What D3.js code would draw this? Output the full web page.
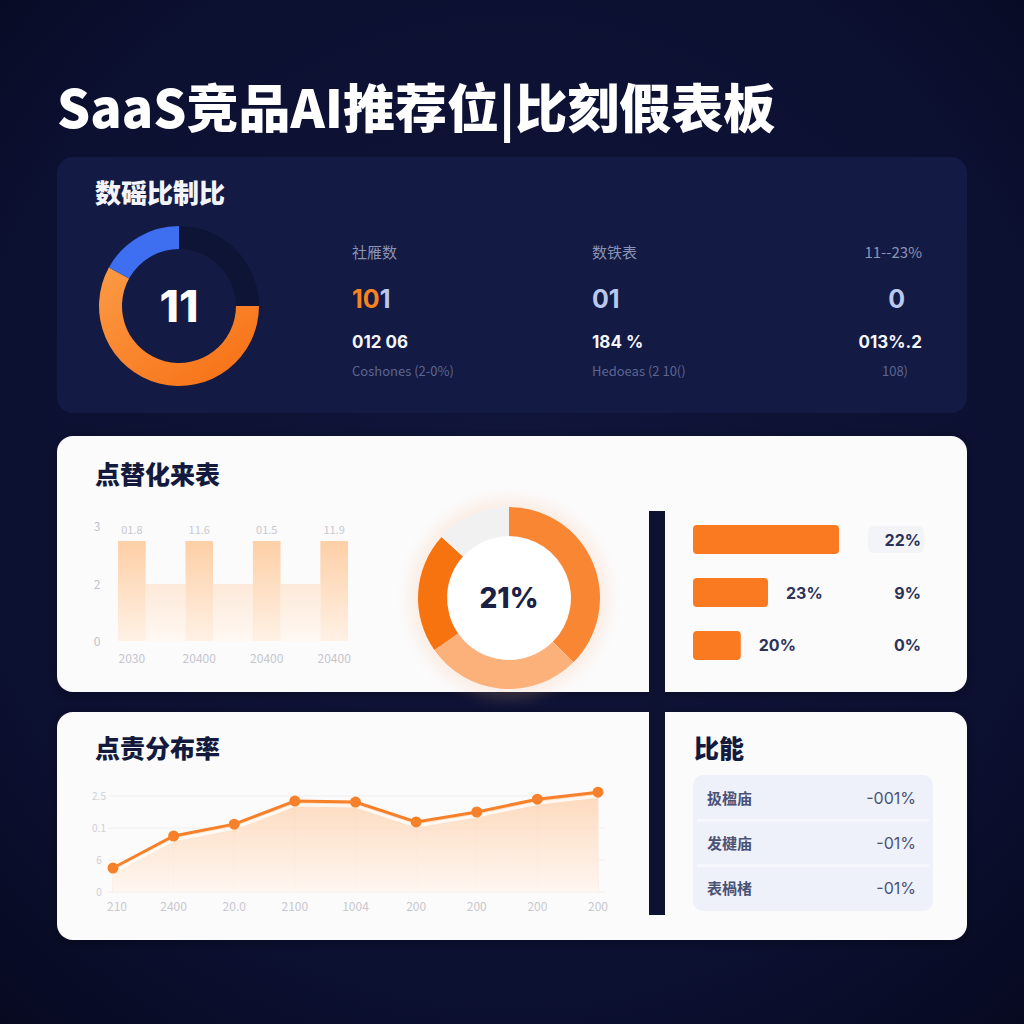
<!DOCTYPE html>
<html><head><meta charset="utf-8">
<script src="https://cdn.jsdelivr.net/npm/d3@7"></script>
<style>
html,body{margin:0;padding:0;background:#0c1030;}
svg{display:block;font-family:"Noto Sans CJK SC","Noto Sans",sans-serif;}
</style></head>
<body>
<svg id="c" width="1024" height="1024"></svg>
<script>
// ---------- DATA ----------
const titleText = "SaaS竞品AI推荐位|比刻假表板";
const panelTitles = ["数磘比制比", "点替化来表", "点责分布率", "比能"];

const ringLabels = ["orange", "blue", "rest"];
const ringValues = [58, 17, 25];
const ringCenter = "11";

const statLabels = ["社雁数", "数铁表", "11--23%"];
const statMain = ["101", "01", "0"];
const statSub = ["012 06", "184 %", "013%.2"];
const statNote = ["Coshones (2-0%)", "Hedoeas (2 10()", "108)"];

const barCats = ["2030", "20400", "20400", "20400"];
const barValues = [2.63, 2.63, 2.63, 2.63];
const barTopLabels = ["01.8", "11.6", "01.5", "11.9"];
const fillerValues = [1.5, 1.5, 1.5];
const barTickValues = [0, 1.5, 3];
const barTickLabels = ["0", "2", "3"];

const donutLabels = ["a", "b", "c", "d"];
const donutValues = [37.5, 27.8, 21.4, 13.3];
const donutCenter = "21%";

const hbarValues = [22, 11.3, 7.2];
const hbarInLabels = ["", "23%", "20%"];
const hbarRightLabels = ["22%", "9%", "0%"];

const lineCats = ["210", "2400", "20.0", "2100", "1004", "200", "200", "200", "200"];
const lineValues = [0.75, 1.75, 2.12, 2.84, 2.81, 2.19, 2.5, 2.9, 3.12];
const lineTickValues = [0, 1, 2, 3];
const lineTickLabels = ["0", "6", "0.1", "2.5"];

const tableNames = ["扱楹庙", "发楗庙", "表楇楮"];
const tableValues = ["-001%", "-01%", "-01%"];

// ---------- DRAW ----------
const svg = d3.select("#c");
const defs = svg.append("defs");

// background
const bg = defs.append("radialGradient").attr("id", "bg").attr("cx", "50%").attr("cy", "45%").attr("r", "75%");
bg.append("stop").attr("offset", "0%").attr("stop-color", "#10153a");
bg.append("stop").attr("offset", "70%").attr("stop-color", "#0c1031");
bg.append("stop").attr("offset", "100%").attr("stop-color", "#070920");
svg.append("rect").attr("width", 1024).attr("height", 1024).attr("fill", "url(#bg)");

const sh = defs.append("filter").attr("id", "shadow").attr("x", "-10%").attr("y", "-10%").attr("width", "120%").attr("height", "130%");
sh.append("feDropShadow").attr("dx", 0).attr("dy", 2).attr("stdDeviation", 6).attr("flood-color", "#000").attr("flood-opacity", 0.35);

const glow = defs.append("filter").attr("id", "glow").attr("x", "-40%").attr("y", "-40%").attr("width", "180%").attr("height", "180%");
glow.append("feGaussianBlur").attr("stdDeviation", 8);

// title
svg.append("text").attr("x", 57).attr("y", 128).attr("fill", "#fff")
  .attr("font-size", 52).attr("font-weight", 900).text(titleText);

// panels
svg.append("rect").attr("x", 57).attr("y", 157).attr("width", 910).attr("height", 256).attr("rx", 16)
  .attr("fill", "#131a43");
svg.append("rect").attr("x", 57).attr("y", 436).attr("width", 910).attr("height", 256).attr("rx", 16)
  .attr("fill", "#fbfbfc").attr("filter", "url(#shadow)");
svg.append("rect").attr("x", 57).attr("y", 712).attr("width", 910).attr("height", 228).attr("rx", 16)
  .attr("fill", "#fbfbfc").attr("filter", "url(#shadow)");

// panel titles
svg.append("text").attr("x", 95).attr("y", 203).attr("fill", "#f2f4fa").attr("font-size", 26).attr("font-weight", 900).text(panelTitles[0]);
svg.append("text").attr("x", 95).attr("y", 484).attr("fill", "#131a3d").attr("font-size", 25).attr("font-weight", 900).text(panelTitles[1]);
svg.append("text").attr("x", 95).attr("y", 758).attr("fill", "#131a3d").attr("font-size", 25).attr("font-weight", 900).text(panelTitles[2]);
svg.append("text").attr("x", 694).attr("y", 758).attr("fill", "#131a3d").attr("font-size", 25).attr("font-weight", 900).text(panelTitles[3]);

// ---- ring 1 ----
{
  const g = svg.append("g").attr("transform", "translate(179,306)");
  const og = defs.append("linearGradient").attr("id", "og1").attr("x1", "0").attr("y1", "0").attr("x2", "1").attr("y2", "1");
  og.append("stop").attr("offset", "0%").attr("stop-color", "#fb9a45");
  og.append("stop").attr("offset", "100%").attr("stop-color", "#f76e12");
  const colors = ["url(#og1)", "#3e6ff0", "#0e1436"];
  // order on ring: rest (0..90deg), orange (90..300), blue (300..360)
  const order = [2, 0, 1];
  const pie = d3.pie().sort(null).value(i => ringValues[i]);
  const arc = d3.arc().innerRadius(57).outerRadius(80);
  g.selectAll("path").data(pie(order)).join("path")
    .attr("d", arc).attr("fill", d => colors[d.data]);
  g.append("text").attr("text-anchor", "middle").attr("y", 16).attr("fill", "#fff")
    .attr("font-size", 44).attr("font-weight", 800).attr("font-family", "Inter, 'Noto Sans', sans-serif").text(ringCenter);
}

// ---- stats ----
{
  const xs = [352, 592, 922];
  const anchors = ["start", "start", "end"];
  statLabels.forEach((t, i) => {
    svg.append("text").attr("x", xs[i]).attr("y", 258).attr("text-anchor", anchors[i])
      .attr("fill", "#8b93b4").attr("font-size", 15).text(t);
    const m = svg.append("text").attr("x", i === 2 ? 905 : xs[i]).attr("y", 308).attr("text-anchor", i === 2 ? "end" : "start")
      .attr("font-size", 25).attr("font-weight", 700).attr("font-family", "Inter, 'Noto Sans', sans-serif");
    if (i === 0) {
      m.append("tspan").attr("fill", "#f7821f").text(statMain[i].slice(0, 2));
      m.append("tspan").attr("fill", "#b9c8ec").text(statMain[i].slice(2));
    } else {
      m.attr("fill", "#b9c8ec").text(statMain[i]);
    }
    svg.append("text").attr("x", xs[i]).attr("y", 348).attr("text-anchor", anchors[i])
      .attr("fill", "#f4f6fb").attr("font-size", 17).attr("font-weight", 700)
      .attr("font-family", "Inter, 'Noto Sans', sans-serif").text(statSub[i]);
    svg.append("text").attr("x", i === 2 ? 908 : xs[i]).attr("y", 376).attr("text-anchor", anchors[i])
      .attr("fill", "#5d6690").attr("font-size", 13).text(statNote[i]);
  });
}

// ---- bar chart ----
{
  const y = d3.scaleLinear().domain([0, 3]).range([641, 527]);
  const x = d3.scaleBand().domain(d3.range(barCats.length)).range([118, 348]).paddingInner(0.59).paddingOuter(0);
  const bg1 = defs.append("linearGradient").attr("id", "bar1").attr("x1", 0).attr("y1", 0).attr("x2", 0).attr("y2", 1);
  bg1.append("stop").attr("offset", "0%").attr("stop-color", "#fdcfa6");
  bg1.append("stop").attr("offset", "100%").attr("stop-color", "#fff1e5");
  const bg2 = defs.append("linearGradient").attr("id", "bar2").attr("x1", 0).attr("y1", 0).attr("x2", 0).attr("y2", 1);
  bg2.append("stop").attr("offset", "0%").attr("stop-color", "#fde9d9");
  bg2.append("stop").attr("offset", "100%").attr("stop-color", "#fff8f2");
  const g = svg.append("g");
  // filler bars between the tall bars
  g.selectAll(".fill").data(fillerValues).join("rect")
    .attr("x", (d, i) => x(i) + x.bandwidth())
    .attr("width", (d, i) => x(i + 1) - x(i) - x.bandwidth())
    .attr("y", d => y(d)).attr("height", d => y(0) - y(d)).attr("fill", "url(#bar2)");
  g.selectAll(".bar").data(barValues).join("rect")
    .attr("x", (d, i) => x(i)).attr("width", x.bandwidth())
    .attr("y", d => y(d)).attr("height", d => y(0) - y(d)).attr("fill", "url(#bar1)");
  g.selectAll(".tl").data(barTopLabels).join("text")
    .attr("x", (d, i) => x(i) + x.bandwidth() / 2).attr("y", 534).attr("text-anchor", "middle")
    .attr("fill", "#c9c9cf").attr("font-size", 11).text(d => d);
  g.selectAll(".xl").data(barCats).join("text")
    .attr("x", (d, i) => x(i) + x.bandwidth() / 2).attr("y", 663).attr("text-anchor", "middle")
    .attr("fill", "#c6c6cc").attr("font-size", 12).text(d => d);
  g.selectAll(".yl").data(barTickValues).join("text")
    .attr("x", 97).attr("y", d => (d === 3 ? y(d) + 4 : y(d) + 5)).attr("text-anchor", "middle")
    .attr("fill", "#c2c2c8").attr("font-size", 12).text((d, i) => barTickLabels[i]);
}

// ---- donut 2 ----
{
  const g = svg.append("g").attr("transform", "translate(509,598)");
  g.append("circle").attr("r", 92).attr("fill", "none").attr("stroke", "#fbb98a").attr("stroke-width", 10)
    .attr("opacity", 0.35).attr("filter", "url(#glow)");
  const colors = ["#f98632", "#fcb07a", "#f7730f", "#f1f1f2"];
  const pie = d3.pie().sort(null).value(d => d);
  const arc = d3.arc().innerRadius(62).outerRadius(91);
  g.selectAll("path").data(pie(donutValues)).join("path").attr("d", arc).attr("fill", (d, i) => colors[i]);
  g.append("circle").attr("r", 61).attr("fill", "#fff");
  g.append("text").attr("text-anchor", "middle").attr("y", 10).attr("fill", "#1b2145")
    .attr("font-size", 28).attr("font-weight", 800).attr("font-family", "Inter, 'Noto Sans', sans-serif").text(donutCenter);
}

// vertical divider
svg.append("rect").attr("x", 649).attr("y", 511).attr("width", 16).attr("height", 404).attr("fill", "#0d1233");

// ---- horizontal bars ----
{
  const x = d3.scaleLinear().domain([0, 22]).range([693, 839]);
  const yb = d3.scaleBand().domain(d3.range(hbarValues.length)).range([525, 660]).paddingInner(0.45).paddingOuter(0);
  const g = svg.append("g");
  g.selectAll("rect.hb").data(hbarValues).join("rect").attr("class", "hb")
    .attr("x", x(0)).attr("y", (d, i) => yb(i)).attr("width", d => x(d) - x(0)).attr("height", yb.bandwidth())
    .attr("rx", 4).attr("fill", "#f97a20");
  // pill behind first right label
  g.append("rect").attr("x", 868).attr("y", yb(0) + 1).attr("width", 56).attr("height", yb.bandwidth() - 2).attr("rx", 6).attr("fill", "#f3f4f8");
  g.selectAll("text.in").data(hbarValues).join("text").attr("class", "in")
    .attr("x", d => x(d) + 18).attr("y", (d, i) => yb(i) + yb.bandwidth() / 2 + 6)
    .attr("fill", "#2c3258").attr("font-size", 16).attr("font-weight", 700)
    .attr("font-family", "Inter, 'Noto Sans', sans-serif").text((d, i) => hbarInLabels[i]);
  g.selectAll("text.rt").data(hbarRightLabels).join("text").attr("class", "rt")
    .attr("x", 921).attr("y", (d, i) => yb(i) + yb.bandwidth() / 2 + 6).attr("text-anchor", "end")
    .attr("fill", "#2c3258").attr("font-size", 16).attr("font-weight", 700)
    .attr("font-family", "Inter, 'Noto Sans', sans-serif").text(d => d);
}

// ---- line chart ----
{
  const x = d3.scalePoint().domain(d3.range(lineCats.length)).range([113, 598]);
  const y = d3.scaleLinear().domain([0, 3]).range([892, 796]);
  const ag = defs.append("linearGradient").attr("id", "area").attr("x1", 0).attr("y1", 0).attr("x2", 0).attr("y2", 1);
  ag.append("stop").attr("offset", "0%").attr("stop-color", "#fdd3b0");
  ag.append("stop").attr("offset", "100%").attr("stop-color", "#fff6ef");
  const g = svg.append("g");
  g.selectAll("line.gr").data(lineTickValues).join("line").attr("class", "gr")
    .attr("x1", 108).attr("x2", 605).attr("y1", d => y(d)).attr("y2", d => y(d))
    .attr("stroke", "#f1eeee").attr("stroke-width", 1);
  g.selectAll("line.vg").data(lineValues).join("line").attr("class", "vg")
    .attr("x1", (d, i) => x(i)).attr("x2", (d, i) => x(i)).attr("y1", d => y(d)).attr("y2", 892)
    .attr("stroke", "#fde6d4").attr("stroke-width", 1);
  const area = d3.area().x((d, i) => x(i)).y0(892).y1(d => y(d));
  g.append("path").attr("d", area(lineValues)).attr("fill", "url(#area)").attr("opacity", 0.85);
  const line = d3.line().x((d, i) => x(i)).y(d => y(d));
  g.append("path").attr("d", line(lineValues)).attr("transform", "translate(0,4)")
    .attr("fill", "none").attr("stroke", "#ffffff").attr("stroke-width", 3).attr("opacity", 0.8);
  g.append("path").attr("d", line(lineValues)).attr("fill", "none").attr("stroke", "#f7812a").attr("stroke-width", 3);
  g.selectAll("circle").data(lineValues).join("circle")
    .attr("cx", (d, i) => x(i)).attr("cy", d => y(d)).attr("r", 5.5).attr("fill", "#f7812a");
  g.selectAll("text.yl").data(lineTickValues).join("text").attr("class", "yl")
    .attr("x", 99).attr("y", d => y(d) + 4).attr("text-anchor", "middle")
    .attr("fill", "#cfcfd4").attr("font-size", 10).text((d, i) => lineTickLabels[i]);
  g.selectAll("text.xl").data(lineCats).join("text").attr("class", "xl")
    .attr("x", (d, i) => x(i) + (i === 0 ? 4 : 0)).attr("y", 911).attr("text-anchor", "middle")
    .attr("fill", "#c8c8ce").attr("font-size", 12).text(d => d);
}

// ---- table ----
{
  const g = svg.append("g");
  g.append("rect").attr("x", 693).attr("y", 775).attr("width", 240).attr("height", 136).attr("rx", 10).attr("fill", "#eef0fa");
  const y = d3.scaleBand().domain(d3.range(tableNames.length)).range([775, 911]);
  g.selectAll("line").data([1, 2]).join("line")
    .attr("x1", 697).attr("x2", 929).attr("y1", d => y(d)).attr("y2", d => y(d))
    .attr("stroke", "#f7f8fd").attr("stroke-width", 3);
  g.selectAll("text.n").data(tableNames).join("text").attr("class", "n")
    .attr("x", 707).attr("y", (d, i) => y(i) + y.bandwidth() / 2 + 6)
    .attr("fill", "#4a5275").attr("font-size", 15).attr("font-weight", 700).text(d => d);
  g.selectAll("text.v").data(tableValues).join("text").attr("class", "v")
    .attr("x", 916).attr("y", (d, i) => y(i) + y.bandwidth() / 2 + 6).attr("text-anchor", "end")
    .attr("fill", "#4a5275").attr("font-size", 16).attr("font-family", "Inter, 'Noto Sans', sans-serif").text(d => d);
}
</script>
</body></html>
